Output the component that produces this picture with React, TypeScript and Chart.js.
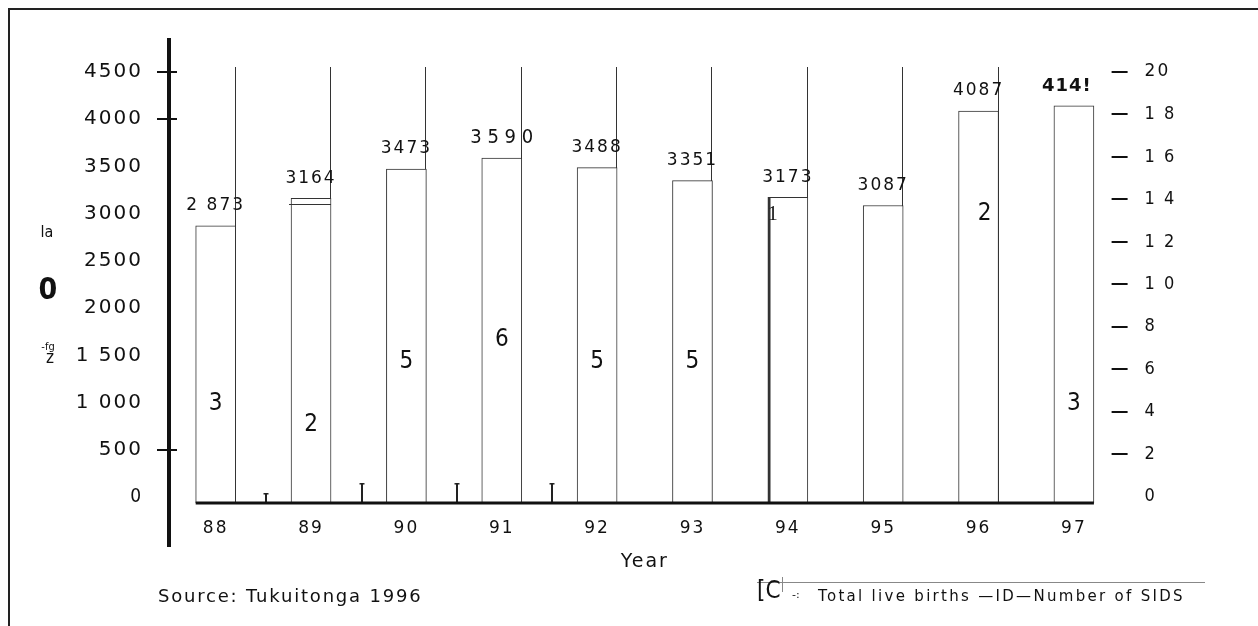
import React, { useEffect, useRef } from 'react';
import { Chart, registerables } from 'chart.js';

Chart.register(...registerables);

// ---------- data ----------
const years = ['88', '89', '90', '91', '92', '93', '94', '95', '96', '97'];
const liveBirths = [2873, 3164, 3473, 3590, 3488, 3351, 3173, 3087, 4087, 4141];
const birthLabels = ['2 873', '3164', '3473', '3 5 9 0', '3488', '3351', '3173', '3087', '4087', '414!'];
const sidsCounts: (number | null)[] = [3, 2, 5, 6, 5, 5, 1, null, 2, 3];
const sidsLabels = ['3', '2', '5', '6', '5', '5', '1', '', '2', '3'];
const sidsMarks = [0.47, 0.94, 0.94, 0.94];
const leftTicks = [0, 500, 1000, 1500, 2000, 2500, 3000, 3500, 4000, 4500];
const leftTickLabels = ['0', '500', '1 000', '1 500', '2000', '2500', '3000', '3500', '4000', '4500'];
const leftMarkedTicks = [4500, 4000, 500];
const rightTicks = [0, 2, 4, 6, 8, 10, 12, 14, 16, 18, 20];
const rightTickLabels = ['0', '2', '4', '6', '8', '1 0', '1 2', '1 4', '1 6', '1 8', '20'];

const LEFT_MIN = -62;
const LEFT_MAX = 4500;
const RIGHT_MIN = -0.3;
const RIGHT_MAX = 20;

const SANS = 'DejaVu Sans';
const NARROW = '"Liberation Sans Narrow", "DejaVu Sans Condensed", sans-serif';
const INK = '#111';

const decor = {
  id: 'decor',
  beforeDraw(chart: any) {
    chart.ctx.letterSpacing = '2px';
  },
  beforeDatasetsDraw(chart: any) {
    const { ctx, chartArea } = chart;
    const meta = chart.getDatasetMeta(0);
    ctx.save();
    ctx.strokeStyle = '#333';
    ctx.lineWidth = 1;
    meta.data.forEach((bar: any, i: number) => {
      if (i === meta.data.length - 1) return;
      const x = Math.round(bar.x + bar.width / 2) - 0.5;
      ctx.beginPath();
      ctx.moveTo(x, chartArea.top - 5);
      ctx.lineTo(x, chartArea.bottom);
      ctx.stroke();
    });
    ctx.restore();
  },
  afterDatasetsDraw(chart: any) {
    const { ctx, chartArea, scales } = chart;
    const yL = scales.y;
    const yR = scales.y2;
    const xS = scales.x;
    const meta = chart.getDatasetMeta(0);
    const bars = meta.data;
    ctx.save();

    // double top line artefact on the 89 bar
    {
      const b = bars[1];
      const y = Math.round(b.y) + 6.5;
      ctx.strokeStyle = '#333';
      ctx.lineWidth = 1;
      ctx.beginPath();
      ctx.moveTo(b.x - b.width / 2 - 2, y);
      ctx.lineTo(b.x + b.width / 2, y);
      ctx.stroke();
    }

    // small I marks between the first bars
    ctx.fillStyle = '#222';
    sidsMarks.forEach((h, i) => {
      const x = Math.round((xS.getPixelForValue(i) + xS.getPixelForValue(i + 1)) / 2 + 3);
      const yb = yR.getPixelForValue(RIGHT_MIN);
      const yt = yR.getPixelForValue(RIGHT_MIN + h);
      ctx.fillRect(x - 1, yt, 2, yb - yt);
      ctx.fillRect(x - 2.5, yt, 5, 1.5);
    });

    // thick baseline
    const x0 = bars[0].x - bars[0].width / 2;
    const last = bars[bars.length - 1];
    const x1 = last.x + last.width / 2;
    ctx.fillStyle = INK;
    ctx.fillRect(x0, chartArea.bottom - 1.5, x1 - x0, 3);

    // left axis line extending beyond plot
    ctx.fillRect(chartArea.left - 1, chartArea.top - 34, 4, chartArea.bottom - chartArea.top + 78);
    // marked left ticks
    leftMarkedTicks.forEach((v) => {
      const y = Math.round(yL.getPixelForValue(v));
      ctx.fillRect(chartArea.left - 11, y - 1, 20, 2);
    });
    // right axis dashes
    rightTicks.forEach((v) => {
      if (v === 0) return;
      const y = Math.round(yR.getPixelForValue(v));
      ctx.fillRect(chartArea.right - 10, y - 1, 16, 2);
    });

    // value labels for live births
    ctx.textAlign = 'center';
    ctx.textBaseline = 'middle';
    ctx.fillStyle = INK;
    bars.forEach((bar: any, i: number) => {
      const y = yL.getPixelForValue(liveBirths[i]) - 20;
      let x = bar.x;
      if (i === 3) {
        ctx.font = `20px ${NARROW}`;
        ctx.letterSpacing = '0px';
      } else if (i === 9) {
        ctx.font = `bold 18px ${SANS}`;
        ctx.letterSpacing = '1px';
        x -= 7;
      } else {
        ctx.font = `17px ${SANS}`;
        ctx.letterSpacing = '2px';
      }
      ctx.fillText(birthLabels[i], x, y);
    });

    // SIDS labels
    const overrides: Record<number, { at: number; dx: number }> = {
      6: { at: 13.27, dx: -15 },
      8: { at: 13.3, dx: 6 },
    };
    ctx.letterSpacing = '0px';
    sidsCounts.forEach((v, i) => {
      if (v === null) return;
      const px = xS.getPixelForValue(i);
      let x = px;
      let y = yR.getPixelForValue(v) - 29;
      const o = overrides[i];
      if (o) {
        x = px + o.dx;
        y = yR.getPixelForValue(o.at);
      }
      if (i === 6) ctx.font = `20px "Liberation Serif", serif`;
      else ctx.font = `24px ${NARROW}`;
      ctx.fillText(sidsLabels[i], x, y);
    });
    ctx.restore();
  },
  afterDraw(chart: any) {
    const { ctx } = chart;
    ctx.save();
    ctx.letterSpacing = '0px';
    ctx.fillStyle = '#222';
    // frame
    ctx.fillRect(8, 8, 1258 - 8, 2);
    ctx.fillRect(8, 8, 2, 626 - 8);

    // mangled y-axis title
    ctx.fillStyle = INK;
    ctx.textAlign = 'center';
    ctx.textBaseline = 'middle';
    ctx.font = `16px ${NARROW}`;
    ctx.fillText('la', 47, 233);
    ctx.font = `bold 30px ${NARROW}`;
    ctx.fillText('0', 48, 291);
    ctx.font = `11px ${NARROW}`;
    ctx.fillText('-fg', 48, 347);
    ctx.font = `17px ${NARROW}`;
    ctx.fillText('z', 50, 359);

    // source
    ctx.textAlign = 'left';
    ctx.font = `18px ${SANS}`;
    ctx.letterSpacing = '1.8px';
    ctx.fillText('Source: Tukuitonga 1996', 158, 597);

    // legend
    ctx.letterSpacing = '0px';
    ctx.strokeStyle = '#888';
    ctx.lineWidth = 1;
    ctx.beginPath();
    ctx.moveTo(757, 582.5);
    ctx.lineTo(1205, 582.5);
    ctx.stroke();
    ctx.beginPath();
    ctx.moveTo(782.5, 577);
    ctx.lineTo(782.5, 592);
    ctx.stroke();
    ctx.font = `24px ${NARROW}`;
    ctx.fillText('[C', 757, 592);
    ctx.font = `11px ${SANS}`;
    ctx.fillText('-:', 792, 595);
    ctx.font = `15px ${SANS}`;
    ctx.letterSpacing = '2.3px';
    ctx.fillText('Total live births \u2014ID\u2014Number of SIDS', 818, 597);
    ctx.restore();
    ctx.letterSpacing = '0px';
  },
};

export default function App() {
  const ref = useRef<HTMLCanvasElement | null>(null);

  useEffect(() => {
    if (!ref.current) return;
    Chart.defaults.font.family = SANS;
    Chart.defaults.color = INK;
    const chart = new Chart(ref.current, {
      type: 'bar',
      data: {
        labels: years,
        datasets: [
          {
            type: 'bar',
            label: 'Total live births',
            data: liveBirths,
            yAxisID: 'y',
            backgroundColor: '#ffffff',
            borderColor: '#333',
            borderWidth: (c: any) => (c.dataIndex === 6 ? { left: 3, top: 1, right: 1, bottom: 0 } : 1),
            borderSkipped: 'start',
            barThickness: 40,
            base: LEFT_MIN,
          } as any,
          {
            type: 'line',
            label: 'Number of SIDS',
            data: sidsCounts,
            yAxisID: 'y2',
            showLine: false,
            pointRadius: 0,
            pointHoverRadius: 0,
            borderColor: 'transparent',
            backgroundColor: 'transparent',
          } as any,
        ],
      },
      options: {
        animation: false,
        responsive: true,
        maintainAspectRatio: false,
        events: [],
        layout: { padding: { top: 72, left: 0, right: 0, bottom: 0 } },
        plugins: {
          legend: { display: false },
          tooltip: { enabled: false },
          title: { display: false },
        },
        scales: {
          x: {
            type: 'category',
            offset: true,
            grid: { display: false, drawTicks: false },
            border: { display: false },
            ticks: {
              padding: 15,
              autoSkip: false,
              maxRotation: 0,
              font: { family: SANS, size: 17 },
              color: INK,
            },
            title: {
              display: true,
              text: 'Year',
              font: { family: SANS, size: 19 },
              color: INK,
              padding: { top: 0, bottom: 53 },
            },
            afterFit: (s: any) => {
              s.height = 123;
            },
          },
          y: {
            type: 'linear',
            position: 'left',
            min: LEFT_MIN,
            max: LEFT_MAX,
            grid: { display: false, drawTicks: false },
            border: { display: false },
            afterBuildTicks: (s: any) => {
              s.ticks = leftTicks.map((v) => ({ value: v }));
            },
            ticks: {
              padding: 25,
              color: INK,
              callback: (v: any) => leftTickLabels[leftTicks.indexOf(Number(v))],
              font: (c: any) =>
                c.tick && c.tick.value === 0
                  ? { family: NARROW, size: 19 }
                  : { family: SANS, size: 20 },
            },
            afterFit: (s: any) => {
              s.width = 168;
            },
          },
          y2: {
            type: 'linear',
            position: 'right',
            min: RIGHT_MIN,
            max: RIGHT_MAX,
            grid: { display: false, drawTicks: false },
            border: { display: false },
            afterBuildTicks: (s: any) => {
              s.ticks = rightTicks.map((v) => ({ value: v }));
            },
            ticks: {
              padding: 23,
              color: INK,
              callback: (v: any) => rightTickLabels[rightTicks.indexOf(Number(v))],
              font: (c: any) =>
                c.tick && c.tick.value === 20
                  ? { family: SANS, size: 17 }
                  : { family: NARROW, size: 18 },
            },
            afterFit: (s: any) => {
              s.width = 136.4;
            },
          },
        },
      } as any,
      plugins: [decor],
    });
    return () => chart.destroy();
  }, []);

  return (
    <div
      style={{
        position: 'fixed',
        left: 0,
        top: 0,
        width: 1258,
        height: 626,
        background: '#ffffff',
      }}
    >
      <canvas ref={ref} />
    </div>
  );
}
